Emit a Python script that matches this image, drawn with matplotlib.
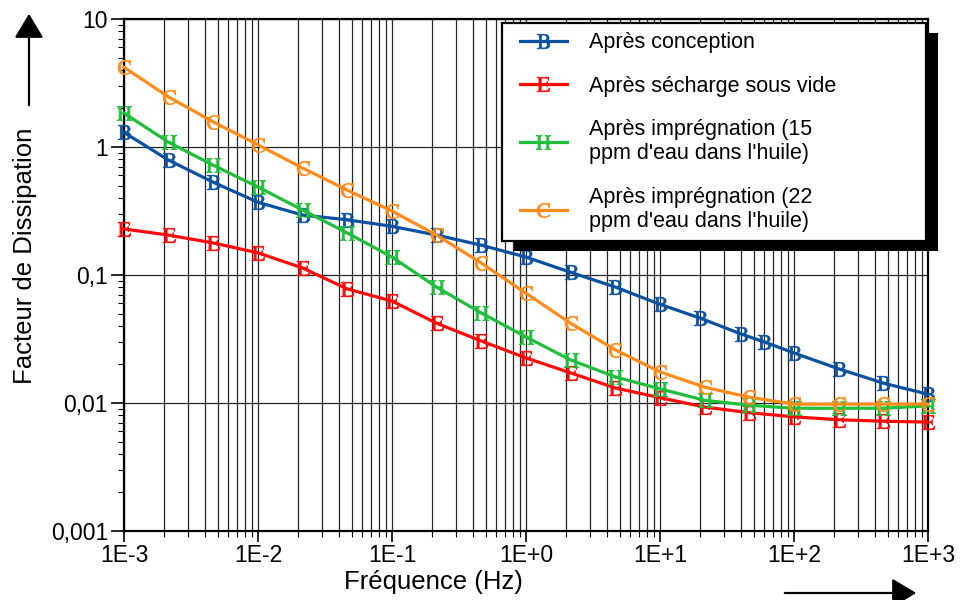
import matplotlib
matplotlib.use("Agg")
import matplotlib.pyplot as plt
from matplotlib.lines import Line2D
from matplotlib.patches import Rectangle, FancyArrowPatch
from matplotlib.ticker import FixedLocator, LogLocator, NullFormatter, FixedFormatter
from matplotlib.legend_handler import HandlerLine2D

plt.rcParams['font.family'] = ['Liberation Sans', 'DejaVu Sans']
plt.rcParams['mathtext.fontset'] = 'stix'

# Measurement frequencies (Hz)
freq = [1e-3, 2.15e-3, 4.64e-3, 1e-2, 2.15e-2, 4.64e-2, 0.1, 0.215, 0.464,
        1, 2.15, 4.64, 10, 21.5, 46.4, 100, 215, 464, 1000]
freq_conception = [1e-3, 2.15e-3, 4.64e-3, 1e-2, 2.15e-2, 4.64e-2, 0.1, 0.215, 0.464,
                   1, 2.15, 4.64, 10, 20, 40, 60, 100, 215, 464, 1000]

# Dissipation factor for each stage
df_conception = [1.3, 0.79, 0.53, 0.37, 0.294, 0.27, 0.24, 0.205, 0.171, 0.138,
                 0.105, 0.0805, 0.059, 0.046, 0.0347, 0.030, 0.0246, 0.0185, 0.0143, 0.0117]
df_sechage = [0.229, 0.205, 0.178, 0.149, 0.1135, 0.0778, 0.0626, 0.042, 0.0305, 0.0225,
              0.0172, 0.0131, 0.011, 0.0093, 0.0084, 0.0078, 0.0074, 0.0072, 0.0071]
df_impr15 = [1.84, 1.09, 0.72, 0.487, 0.322, 0.213, 0.138, 0.0805, 0.0505, 0.0328,
             0.0217, 0.016, 0.0129, 0.0105, 0.0096, 0.0091, 0.0091, 0.0091, 0.0095]
df_impr22 = [4.2, 2.46, 1.57, 1.04, 0.685, 0.46, 0.316, 0.205, 0.124, 0.072,
             0.042, 0.026, 0.0175, 0.0133, 0.0111, 0.0098, 0.0098, 0.0098, 0.0098]

labels = ["Après conception",
          "Après sécharge sous vide",
          "Après imprégnation (15\nppm d'eau dans l'huile)",
          "Après imprégnation (22\nppm d'eau dans l'huile)"]
letters = ["B", "E", "H", "C"]
colors = ["#0a52a0", "#ff0a0a", "#1fbf3c", "#ff8c1a"]

x_ticks = [1e-3, 1e-2, 1e-1, 1, 10, 100, 1000]
x_ticklabels = ["1E-3", "1E-2", "1E-1", "1E+0", "1E+1", "1E+2", "1E+3"]
y_ticks = [1e-3, 1e-2, 1e-1, 1, 10]
y_ticklabels = ["0,001", "0,01", "0,1", "1", "10"]

fig = plt.figure(figsize=(9.6, 6.0), dpi=100)
ax = fig.add_axes([124 / 960, 1 - 531 / 600, 804 / 960, 512 / 600])
ax.set_xscale('log')
ax.set_yscale('log')
ax.set_xlim(1e-3, 1e3)
ax.set_ylim(1e-3, 10)

series = [(freq_conception, df_conception), (freq, df_sechage),
          (freq, df_impr15), (freq, df_impr22)]
handles = []
for (xs, ys), letter, col in zip(series, letters, colors):
    ln, = ax.plot(xs, ys, color=col, lw=2.3, marker=r'$\mathrm{%s}$' % letter,
                  markersize=10.5, markeredgewidth=0.5, clip_on=False, zorder=3)
    handles.append(ln)

# Axis ticks
ax.xaxis.set_major_locator(FixedLocator(x_ticks))
ax.xaxis.set_major_formatter(FixedFormatter(x_ticklabels))
ax.xaxis.set_minor_locator(LogLocator(base=10, subs=range(2, 10), numticks=20))
ax.xaxis.set_minor_formatter(NullFormatter())
ax.yaxis.set_major_locator(FixedLocator(y_ticks))
ax.yaxis.set_major_formatter(FixedFormatter(y_ticklabels))
ax.yaxis.set_minor_locator(LogLocator(base=10, subs=range(2, 10), numticks=20))
ax.yaxis.set_minor_formatter(NullFormatter())

ax.tick_params(axis='x', which='major', direction='out', length=8, width=1.2,
               labelsize=16.5, pad=1, top=False)
ax.tick_params(axis='x', which='minor', direction='out', length=4, width=0.8, top=False)
ax.tick_params(axis='y', which='major', direction='out', length=9.5, width=1.2,
               labelsize=16.5, pad=2, right=False)
ax.tick_params(axis='y', which='minor', direction='out', length=4.5, width=0.8, right=False)

ax.grid(True, axis='x', which='both', color='#262626', lw=0.9, zorder=1)
ax.grid(True, axis='y', which='major', color='#262626', lw=0.9, zorder=1)
ax.set_axisbelow(True)

for sp in ax.spines.values():
    sp.set_linewidth(1.6)
    sp.set_color('black')

ax.set_xlabel("Fréquence (Hz)", fontsize=18.5)
ax.xaxis.set_label_coords((433 - 124) / 804, (531 - 582) / 512)
ax.xaxis.label.set_va('center')
ax.set_ylabel("Facteur de Dissipation", fontsize=18.5)
ax.yaxis.set_label_coords((25 - 124) / 804, (531 - 256) / 512)
ax.yaxis.label.set_va('center')

# Legend box
leg = ax.legend(handles, labels, loc='upper left',
                bbox_to_anchor=(502 / 960, 1 - 239 / 600, 424 / 960, 216 / 600),
                bbox_transform=fig.transFigure, mode='expand', borderaxespad=0,
                fontsize=15.5, frameon=True, fancybox=False, framealpha=1,
                edgecolor='black', borderpad=0.42, labelspacing=1.05,
                handlelength=2.6, handletextpad=1.0, numpoints=1,
                handler_map={Line2D: HandlerLine2D(xpad=0.4)})
leg.get_frame().set_linewidth(1.6)
leg.set_zorder(6)

# Arrows beside axis titles
fig.add_artist(FancyArrowPatch(
    (29 / 960, 1 - 108 / 600), (29 / 960, 1 - 11 / 600), transform=fig.transFigure,
    arrowstyle='-|>,head_length=0.75,head_width=0.45', mutation_scale=20,
    lw=1.6, color='black'))
fig.add_artist(FancyArrowPatch(
    (782 / 960, 1 - 593 / 600), (919 / 960, 1 - 593 / 600), transform=fig.transFigure,
    arrowstyle='-|>,head_length=0.75,head_width=0.45', mutation_scale=20,
    lw=1.6, color='black'))

# Solid drop shadow behind the legend
fig.canvas.draw()
bb = leg.get_window_extent()
inv = ax.transAxes.inverted()
(x0, y0) = inv.transform((bb.x0 + 12, bb.y0 - 10))
(x1, y1) = inv.transform((bb.x1 + 12, bb.y1 - 10))
shadow = Rectangle((x0, y0), x1 - x0, y1 - y0, transform=ax.transAxes,
                   facecolor='black', edgecolor='none', zorder=5.5, clip_on=False)
ax.add_patch(shadow)

fig.savefig("out.png", dpi=100)
